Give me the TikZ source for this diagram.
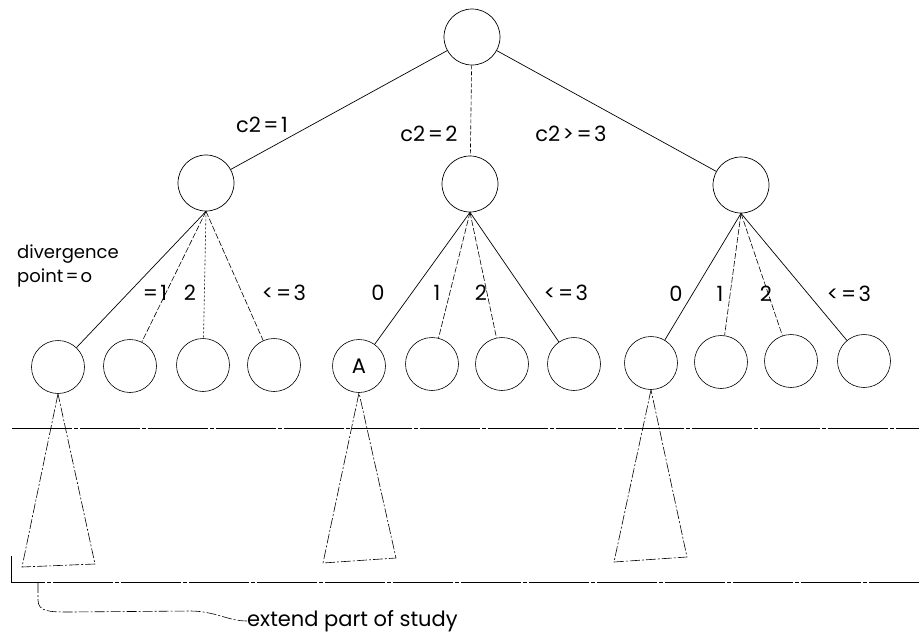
\documentclass[tikz,border=0pt]{standalone}
\usepackage{fontspec}
\setmainfont{Poppins}
\newcommand{\eqgap}{\hspace{0.12em}}
\begin{document}
\begin{tikzpicture}[x=1pt,y=-1pt,
  vert/.style={draw,circle,minimum size=56pt,inner sep=0pt,line width=0.7pt},
  leaf/.style={draw,circle,minimum size=53pt,inner sep=0pt,line width=0.6pt},
  lab/.style={font=\fontsize{21}{24}\selectfont,inner sep=0pt},
  small/.style={font=\fontsize{18}{24}\selectfont,inner sep=0pt},
  br/.style={line width=0.7pt},
  sub/.style={line width=0.6pt,dash pattern=on 6pt off 2pt},
  cut/.style={line width=0.7pt,dash pattern=on 60pt off 2pt on 4pt off 2pt},
  tri/.style={line width=0.6pt,dash pattern=on 10pt off 2pt on 2pt off 2pt}]
\useasboundingbox (0,0) rectangle (919,637);
% the tree
\node[vert] (root) at (472,37) {};
\node[vert] (c1) at (206,183) {};
\node[vert] (c2) at (470,184) {};
\node[vert] (c3) at (741,185) {};
\node[leaf] (a0) at (58,367) {};
\node[leaf] (a1) at (130,366) {};
\node[leaf] (a2) at (203,365) {};
\node[leaf] (a3) at (274,365) {};
\node[leaf,font=\fontsize{21}{24}\selectfont] (b0) at (359,366) {A};
\node[leaf] (b1) at (432,364) {};
\node[leaf] (b2) at (502,364) {};
\node[leaf] (b3) at (574,364) {};
\node[leaf] (d0) at (651,363) {};
\node[leaf] (d1) at (721,362) {};
\node[leaf] (d2) at (791,361) {};
\node[leaf] (d3) at (864,361) {};
\draw[br](root)--(c1);
\draw[sub,dash pattern=on 4pt off 2pt](root)--(c2);
\draw[br](root)--(c3);
\draw[br](c1.south)--(a0);
\draw[sub](c1.south)--(a1);
\draw[sub,dash pattern=on 2pt off 2pt](c1.south)--(a2);
\draw[sub](c1.south)--(a3);
\draw[br](c2.south)--(b0);
\draw[sub](c2.south)--(b1);
\draw[sub](c2.south)--(b2);
\draw[br](c2.south)--(b3);
\draw[br](c3.south)--(d0);
\draw[sub](c3.south)--(d1);
\draw[sub](c3.south)--(d2);
\draw[br](c3.south)--(d3);
% branch labels
\node[lab] (t1) at (262,125) {c2\eqgap=\eqgap1};
\node[lab] (t2) at (429,134) {c2\eqgap=\eqgap2};
\node[lab] (t3) at (571,134) {c2\eqgap>\eqgap=\eqgap3};
\node[small,align=left,anchor=north west] (dp) at (17,245) {divergence\\point\eqgap=\eqgap o};
\node[lab] (ta1) at (155,293) {=\eqgap1};
\node[lab] (ta2) at (190,293) {2};
\node[lab] (ta3) at (284,293) {<\eqgap=\eqgap3};
\node[lab] (tb0) at (378,293) {0};
\node[lab] (tb1) at (437,293) {1};
\node[lab] (tb2) at (481,293) {2};
\node[lab] (tb3) at (566,293) {<\eqgap=\eqgap3};
\node[lab] (td0) at (676,294) {0};
\node[lab] (td1) at (720,294) {1};
\node[lab] (td2) at (766,294) {2};
\node[lab] (td3) at (849,294) {<\eqgap=\eqgap3};
% subtrees below the leaves
\draw[tri](a0.south)--(22,567)--(95,564)--cycle;
\draw[tri](b0.south)--(323,563)--(396,558)--cycle;
\draw[tri](d0.south)--(614,562)--(687,557)--cycle;
% cut lines and the note
\draw[cut](12,428)--(919,428);
\draw[cut](11,556)--(11,582)--(919,582);
\coordinate (brk) at (38,583);
\node[lab,anchor=west] (note) at (247,621) {extend part of study};
\draw[tri](brk)--(38,600) .. controls (38,612) and (50,612) .. (70,612)
  --(190,611) .. controls (215,611) and (228,621) .. (note.west);
\end{tikzpicture}
\end{document}
